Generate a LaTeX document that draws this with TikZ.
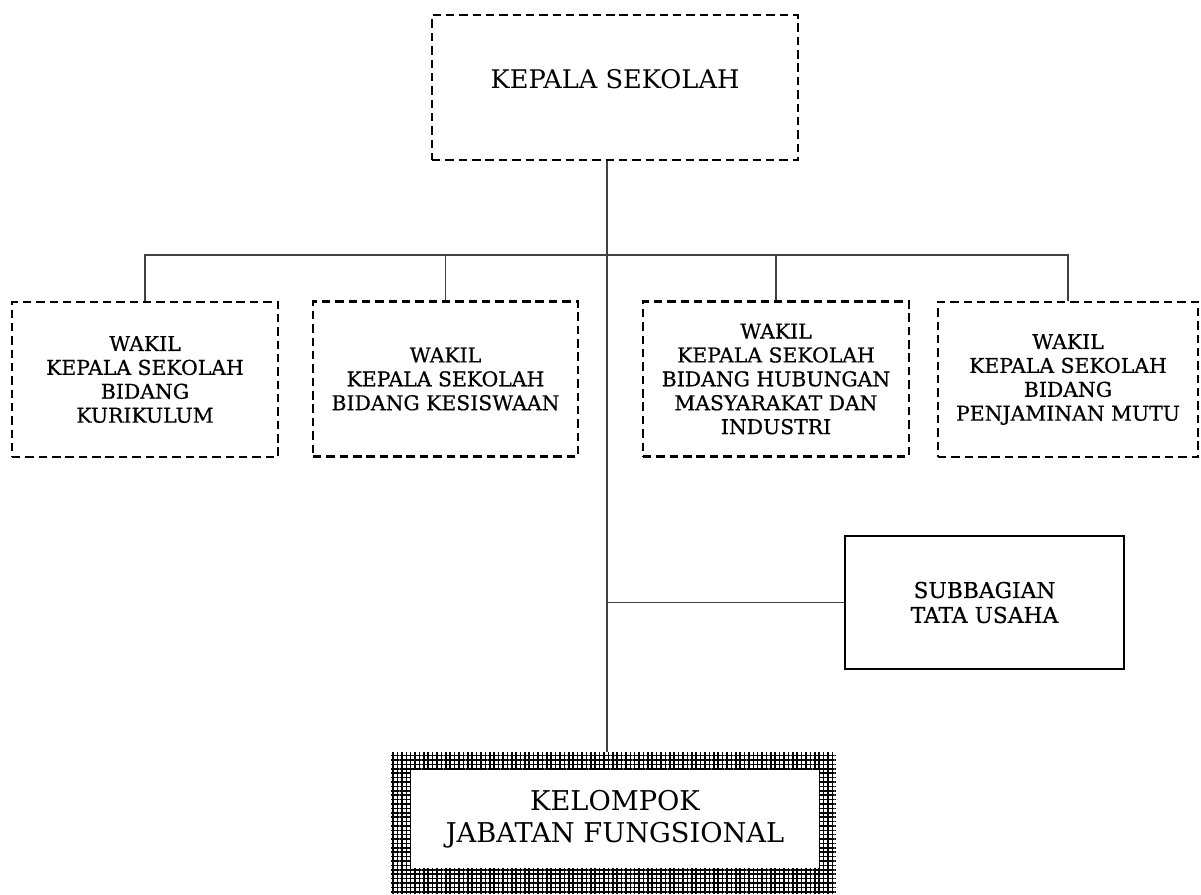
\documentclass[tikz,border=0pt]{standalone}
\usepackage{fontspec}
\setmainfont{DejaVu Serif}
\newfontfamily\wakilfont{DejaVu Serif}[FakeBold=0.6]
\usetikzlibrary{patterns}

\pgfdeclarepatternformonly{kjfgrid}{\pgfqpoint{-1pt}{-1pt}}{\pgfqpoint{2.5pt}{2.5pt}}{\pgfqpoint{2.5pt}{2.5pt}}{%
  \pgfsetlinewidth{0.9pt}%
  \pgfpathmoveto{\pgfqpoint{1.25pt}{0pt}}\pgfpathlineto{\pgfqpoint{1.25pt}{2.6pt}}%
  \pgfpathmoveto{\pgfqpoint{0pt}{1.25pt}}\pgfpathlineto{\pgfqpoint{2.6pt}{1.25pt}}%
  \pgfusepath{stroke}}

\begin{document}
\begin{tikzpicture}[x=0.02cm,y=-0.02cm,
  wakil/.style={draw,line width=1.3pt,dash pattern=on 4.8pt off 2.8pt,align=center,
    font=\wakilfont\fontsize{11.6}{13.6}\selectfont,minimum height=3.1cm,inner sep=2pt},
  conn/.style={draw,line width=0.8pt,black!75}]
\useasboundingbox (0,0) rectangle (1201,894);

\node[wakil,minimum width=7.32cm,minimum height=2.9cm,text depth=0.36cm,
  font=\fontsize{14.6}{17}\selectfont] (kepsek) at (615,87.5) {KEPALA SEKOLAH};

\node[wakil,minimum width=5.32cm] (wk1) at (145,379.5) {WAKIL\\KEPALA SEKOLAH\\BIDANG\\KURIKULUM};
\node[wakil,minimum width=5.3cm] (wk2) at (445.5,379) {WAKIL\\KEPALA SEKOLAH\\BIDANG KESISWAAN};
\node[wakil,minimum width=5.32cm] (wk3) at (776,379) {WAKIL\\KEPALA SEKOLAH\\BIDANG HUBUNGAN\\MASYARAKAT DAN\\INDUSTRI};
\node[wakil,minimum width=5.2cm] (wk4) at (1068,379.5) {WAKIL\\KEPALA SEKOLAH\\BIDANG\\PENJAMINAN MUTU};

\node[draw,line width=0.9pt,minimum width=5.58cm,minimum height=2.66cm,align=center,
  font=\wakilfont\fontsize{12.4}{14.2}\selectfont] (tu) at (984.5,602.5) {SUBBAGIAN\\TATA USAHA};

\node[minimum width=8.9cm,minimum height=2.84cm,pattern=kjfgrid] (kjfo) at (613.5,823) {};
\node[fill=white,minimum width=8.16cm,minimum height=1.96cm,align=center,
  font=\fontsize{15.5}{18}\selectfont] (kjf) at (615,819) {KELOMPOK\\JABATAN FUNGSIONAL};

\coordinate (bus) at (607,255);
\draw[conn] (kepsek.south -| bus) -- (kjfo.north -| bus);
\draw[conn] (wk1.north) |- (bus) -| (wk4.north);
\draw[conn] (wk2.north) |- (bus);
\draw[conn] (wk3.north) |- (bus);
\draw[conn] (tu.west) -- (tu.west -| bus);
\end{tikzpicture}
\end{document}
